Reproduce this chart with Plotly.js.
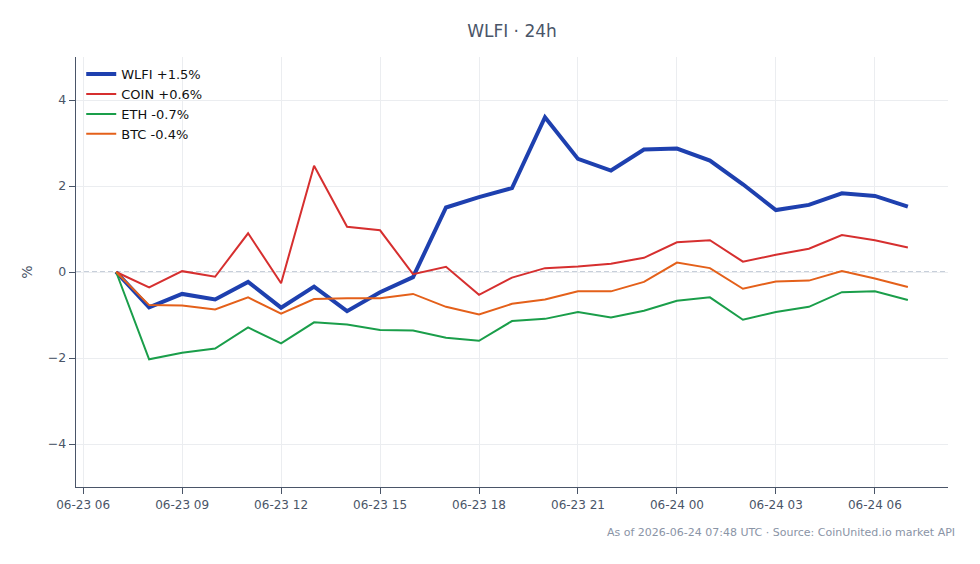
<!DOCTYPE html>
<html>
<head>
<meta charset="utf-8">
<script src="https://cdn.plot.ly/plotly-3.0.1.min.js"></script>
<style>html,body{margin:0;padding:0;background:#fff;}#chart{width:980px;height:564px;}</style>
</head>
<body>
<div id="chart"></div>
<script>
const times = [
  "2026-06-23 07:00","2026-06-23 08:00","2026-06-23 09:00","2026-06-23 10:00","2026-06-23 11:00",
  "2026-06-23 12:00","2026-06-23 13:00","2026-06-23 14:00","2026-06-23 15:00","2026-06-23 16:00",
  "2026-06-23 17:00","2026-06-23 18:00","2026-06-23 19:00","2026-06-23 20:00","2026-06-23 21:00",
  "2026-06-23 22:00","2026-06-23 23:00","2026-06-24 00:00","2026-06-24 01:00","2026-06-24 02:00",
  "2026-06-24 03:00","2026-06-24 04:00","2026-06-24 05:00","2026-06-24 06:00","2026-06-24 07:00"
];
const wlfi = [0, -0.82, -0.51, -0.64, -0.23, -0.83, -0.34, -0.91, -0.47, -0.12, 1.50, 1.74, 1.95,
  3.60, 2.63, 2.36, 2.85, 2.87, 2.59, 2.04, 1.44, 1.56, 1.83, 1.77, 1.52];
const coin = [0, -0.36, 0.02, -0.11, 0.90, -0.26, 2.47, 1.05, 0.97, -0.05, 0.12, -0.53, -0.13,
  0.09, 0.13, 0.19, 0.33, 0.69, 0.74, 0.24, 0.40, 0.54, 0.86, 0.74, 0.57];
const eth = [0, -2.03, -1.88, -1.78, -1.29, -1.66, -1.17, -1.22, -1.35, -1.36, -1.53, -1.60, -1.14,
  -1.09, -0.93, -1.06, -0.90, -0.67, -0.59, -1.11, -0.93, -0.81, -0.47, -0.45, -0.65];
const btc = [0, -0.77, -0.78, -0.87, -0.59, -0.97, -0.63, -0.61, -0.61, -0.51, -0.81, -0.99, -0.74,
  -0.64, -0.45, -0.45, -0.23, 0.22, 0.09, -0.39, -0.22, -0.20, 0.02, -0.15, -0.35];
const names = ["WLFI +1.5%", "COIN +0.6%", "ETH -0.7%", "BTC -0.4%"];
const titleText = "WLFI · 24h";
const footer = "As of 2026-06-24 07:48 UTC · Source: CoinUnited.io market API";

const font = "DejaVu Sans, sans-serif";
const traces = [
  {x: times, y: wlfi, name: names[0], mode: "lines", line: {color: "#1e40af", width: 4}},
  {x: times, y: coin, name: names[1], mode: "lines", line: {color: "#d62f2f", width: 2}},
  {x: times, y: eth, name: names[2], mode: "lines", line: {color: "#1a9e4a", width: 2}},
  {x: times, y: btc, name: names[3], mode: "lines", line: {color: "#e4601a", width: 2}}
];
const layout = {
  width: 980, height: 564,
  margin: {l: 76, r: 32, t: 57, b: 77},
  paper_bgcolor: "#fff", plot_bgcolor: "#fff",
  font: {family: font, size: 12, color: "#4a5568"},
  title: {text: titleText, x: 0.5, xref: "paper", y: 0.945, yanchor: "middle",
          font: {family: font, size: 17, color: "#4a5568"}},
  showlegend: true,
  legend: {x: 0.006, y: 0.995, xanchor: "left", yanchor: "top", bgcolor: "rgba(255,255,255,0)",
           font: {family: font, size: 13, color: "#111"}, tracegroupgap: 0},
  xaxis: {
    type: "date", range: ["2026-06-23 05:47", "2026-06-24 08:13"],
    tick0: "2026-06-23 06:00", dtick: 10800000, tickformat: "%m-%d %H",
    showgrid: true, gridcolor: "#ebedf0", gridwidth: 1,
    showline: true, linecolor: "#4a5568", linewidth: 1.2,
    ticks: "outside", ticklen: 6, tickcolor: "#4a5568",
    tickfont: {family: font, size: 12, color: "#4a5568"}, zeroline: false
  },
  yaxis: {
    range: [-5, 5], dtick: 2, tick0: 0,
    showgrid: true, gridcolor: "#ebedf0", gridwidth: 1,
    showline: true, linecolor: "#4a5568", linewidth: 1.2,
    ticks: "outside", ticklen: 6, tickcolor: "#4a5568",
    tickfont: {family: font, size: 12.5, color: "#4a5568"}, zeroline: false,
    title: {text: "%", standoff: 12, font: {family: font, size: 14, color: "#4a5568"}}
  },
  shapes: [{type: "line", xref: "paper", x0: 0, x1: 1, yref: "y", y0: 0, y1: 0,
            line: {color: "#8f9fb6", width: 1.2, dash: "5px,3px"}, layer: "below"}],
  annotations: [{text: footer, xref: "paper", yref: "paper", x: 1.01, y: -0.105,
                 xanchor: "right", yanchor: "middle", showarrow: false,
                 font: {family: font, size: 11, color: "#8a94a6"}}]
};
Plotly.newPlot("chart", traces, layout, {displayModeBar: false, staticPlot: true});
</script>
</body>
</html>
